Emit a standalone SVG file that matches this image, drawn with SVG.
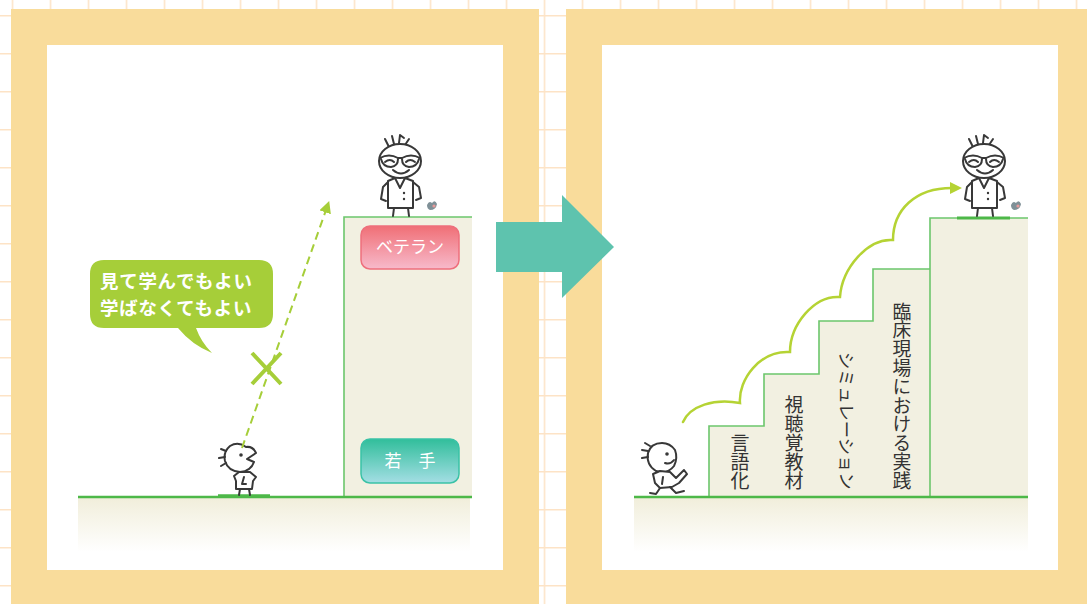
<svg xmlns="http://www.w3.org/2000/svg" width="1087" height="604" viewBox="0 0 1087 604">
  <style>
    .frame { fill: #f9dc9b; }
    .panel { fill: #ffffff; }
    .ground { stroke: #4db848; stroke-width: 2.5; fill: none; }
    .block { fill: #f2f0e1; }
    .blockEdge { fill: none; stroke: #6cc66c; stroke-width: 1.6; }
    .ink { fill: none; stroke: #383838; stroke-width: 2; stroke-linecap: round; stroke-linejoin: round; }
    .inkFill { fill: #ffffff; stroke: #383838; stroke-width: 2; stroke-linecap: round; stroke-linejoin: round; }
    .label { font-family: "Noto Sans CJK JP", "Noto Sans", sans-serif; fill: #ffffff; font-size: 17px; text-anchor: middle; }
    .step { font-family: "Noto Sans CJK JP", "Noto Sans", sans-serif; fill: #333333; writing-mode: vertical-rl; text-anchor: end; }
    .stepSide { font-family: "Noto Sans CJK JP", "Noto Sans", sans-serif; fill: #333333; dominant-baseline: central; }
    .bubbleText { font-family: "Noto Sans CJK JP", "Noto Sans", sans-serif; fill: #ffffff; font-size: 18.5px; font-weight: bold; letter-spacing: 0.7px; }
  </style>
  <defs>
    <pattern id="grid" x="11.7" y="15" width="38" height="38" patternUnits="userSpaceOnUse">
      <path d="M0,0 H38 M0,0 V38" stroke="#fde3c6" stroke-width="3" fill="none"/>
    </pattern>
    <linearGradient id="floorFade" x1="0" y1="0" x2="0" y2="1">
      <stop offset="0" stop-color="#f1eedb"/>
      <stop offset="1" stop-color="#ffffff"/>
    </linearGradient>
    <linearGradient id="pinkTag" x1="0" y1="0" x2="0" y2="1">
      <stop offset="0" stop-color="#f06f76"/>
      <stop offset="1" stop-color="#f7bacb"/>
    </linearGradient>
    <linearGradient id="tealTag" x1="0" y1="0" x2="0" y2="1">
      <stop offset="0" stop-color="#31be9b"/>
      <stop offset="1" stop-color="#a4dee4"/>
    </linearGradient>
    <marker id="limeHead" viewBox="0 0 10 10" refX="2" refY="5" markerWidth="5" markerHeight="5" orient="auto" markerUnits="strokeWidth">
      <path d="M0,0 L10,5 L0,10 Z" fill="#b5d334"/>
    </marker>
    <marker id="dashHead" viewBox="0 0 10 10" refX="2" refY="5" markerWidth="6" markerHeight="6" orient="auto" markerUnits="strokeWidth">
      <path d="M0,0 L10,5 L0,10 Z" fill="#a6ce39"/>
    </marker>
    <!-- bespectacled senior figure, feet resting on y=217 -->
    <g id="veteranFigure">
      <path class="ink" d="M389,147 L385,139 M394,144 L392,136 M399,143 L400,135 L404,138 M405,145 L409,139"/>
      <ellipse class="inkFill" cx="400" cy="161" rx="21" ry="17"/>
      <path class="ink" d="M380,158 Q389,153 398,158 L402,158 Q411,153 420,158"/>
      <path class="ink" d="M381,159 Q383,167 391,167 Q398,166 398,159 M402,159 Q402,166 409,167 Q417,167 419,159"/>
      <path class="ink" d="M385,162 Q390,158 394,162 M406,162 Q410,158 415,162" stroke-width="1.5"/>
      <path class="ink" d="M393,170 Q401,177 409,170"/>
      <path class="inkFill" d="M388,181 L388,208 L413,208 L413,181 L405,178 L400,188 L395,178 Z"/>
      <path class="ink" d="M388,182 L383,187 L381,199 L386,201 M413,182 L419,187 L421,198 L416,200"/>
      <path class="ink" d="M394,208 L393,216 M408,208 L409,216"/>
      <circle cx="404" cy="193" r="1.2" fill="#383838"/>
      <circle cx="404" cy="199" r="1.2" fill="#383838"/>
      <path d="M427,205 Q429,200 432,203 Q435,199 437,204 Q436,210 430,210 Q427,209 427,205 Z" fill="#7f9097"/>
      <circle cx="434" cy="206" r="1.6" fill="#e79a9a"/>
    </g>
  </defs>

  <!-- backdrop -->
  <rect x="0" y="0" width="1087" height="604" fill="#ffffff"/>
  <rect x="0" y="0" width="1087" height="604" fill="url(#grid)"/>

  <!-- panel frames -->
  <rect class="frame" x="11" y="9" width="528" height="600"/>
  <rect class="panel" x="47" y="45" width="456" height="525"/>
  <rect class="frame" x="566" y="9" width="530" height="600"/>
  <rect class="panel" x="602" y="45" width="456" height="525"/>

  <!-- left panel -->
  <g id="left-floor">
    <rect x="78" y="498" width="392" height="54" fill="url(#floorFade)"/>
  </g>
  <g id="veteran-column">
    <rect class="block" x="344" y="217" width="128" height="280"/>
    <path class="blockEdge" d="M344,497 V217 H472"/>
  </g>
  <g id="tag-veteran">
    <rect x="361" y="226" width="98" height="43" rx="9" fill="url(#pinkTag)" stroke="#ee6f7c" stroke-width="1.5"/>
    <text class="label" x="410" y="253">ベテラン</text>
  </g>
  <g id="tag-novice">
    <rect x="361" y="439" width="98" height="44" rx="9" fill="url(#tealTag)" stroke="#3ac2a6" stroke-width="1.5"/>
    <text class="label" x="410" y="467">若　手</text>
  </g>
  <g id="left-ground">
    <path class="ground" d="M78,497 H472"/>
    <path d="M218,496 H270" stroke="#4db848" stroke-width="3.5"/>
  </g>
  <g id="veteran-left">
    <use href="#veteranFigure"/>
  </g>
  <g id="novice-left">
    <path class="inkFill" d="M246,447 Q238,441 230,446 Q223,452 225,461 Q228,471 240,472 Q251,471 254,462 L247,459 L256,453 Q253,446 246,447 Z"/>
    <circle cx="241" cy="455" r="1.8" fill="#383838"/>
    <path class="ink" d="M226,451 L221,449 M225,457 L219,458 M226,463 L221,466" stroke-width="1.6"/>
    <path class="inkFill" d="M234,476 L239,472 L250,472 L256,477 L253,481 L252,489 L236,489 L236,481 Z"/>
    <path class="ink" d="M244,477 L242,484 L246,484 M240,489 L239,495 M249,489 L250,495" stroke-width="1.6"/>
  </g>
  <g id="bubble">
    <path d="M104,260 H259 Q273,260 273,274 V314 Q273,328 259,328 H196 Q201,342 212,353 Q192,345 178,328 H104 Q90,328 90,314 V274 Q90,260 104,260 Z" fill="#a6ce39"/>
    <text class="bubbleText" x="100" y="288">見て学んでもよい</text>
    <text class="bubbleText" x="100" y="315">学ばなくてもよい</text>
  </g>

  <!-- connectors -->
  <g id="connectors">
    <path d="M242,448 L326,210" fill="none" stroke="#a6ce39" stroke-width="2" stroke-dasharray="8,5" marker-end="url(#dashHead)"/>
    <path d="M252,353 L281,384 M281,353 L252,384" stroke="#a6ce39" stroke-width="4" fill="none"/>
    <path d="M683,422 C690,406 714,398 740,403 C738,380 760,350 790,352 C790,325 814,295 840,297 C842,268 868,238 893,240 C893,210 915,188 952,188" fill="none" stroke="#b5d334" stroke-width="2.5" stroke-linecap="round" marker-end="url(#limeHead)"/>
  </g>

  <!-- transition arrow between panels -->
  <g id="transition-arrow">
    <path d="M496,222 H562 V195 L614,247 L562,298 V272 H496 Z" fill="#5ec3ae"/>
  </g>

  <!-- right panel -->
  <g id="right-floor">
    <rect x="634" y="498" width="394" height="54" fill="url(#floorFade)"/>
  </g>
  <g id="stairs">
    <path class="block" d="M709,497 V426 H764 V374 H819 V321 H873 V269 H930 V218 H1028 V497 Z"/>
    <path class="blockEdge" d="M709,497 V426 H764 V374 H819 V321 H873 V269 H930 V218 H1028 M930,269 V497"/>
  </g>
  <g id="step-1">
    <text class="step" x="740" y="490" font-size="19">言語化</text>
  </g>
  <g id="step-2">
    <text class="step" x="794" y="490" font-size="19">視聴覚教材</text>
  </g>
  <g id="step-3">
    <!-- katakana line set sideways, reading downward -->
    <text class="stepSide" font-size="17.3" transform="translate(847,352) rotate(90)" x="0" y="0">シミュレーション</text>
  </g>
  <g id="step-4">
    <text class="step" x="902" y="490" font-size="18.8">臨床現場における実践</text>
  </g>
  <g id="right-ground">
    <path class="ground" d="M634,497 H1028"/>
    <path d="M957,218 H1010" stroke="#4db848" stroke-width="3"/>
  </g>
  <g id="veteran-right">
    <use href="#veteranFigure" transform="translate(584,0)"/>
  </g>
  <g id="novice-right">
    <path class="inkFill" d="M662,443 Q651,443 648,453 Q646,465 656,471 Q667,475 674,466 Q678,458 675,450 Q670,443 662,443 Z"/>
    <circle cx="667" cy="454" r="1.8" fill="#383838"/>
    <path class="ink" d="M665,463 Q670,465 674,460" stroke-width="1.6"/>
    <path class="ink" d="M650,446 L645,443 M648,451 L642,450 M648,457 L642,458" stroke-width="1.6"/>
    <path class="inkFill" d="M653,474 L660,471 L670,472 L676,478 L684,470 L687,474 L679,483 L672,487 L660,488 L655,483 Z"/>
    <path class="ink" d="M660,488 L656,494 L650,493 M670,487 L676,493 L684,491 M663,477 L662,484" stroke-width="1.6"/>
  </g>
</svg>
